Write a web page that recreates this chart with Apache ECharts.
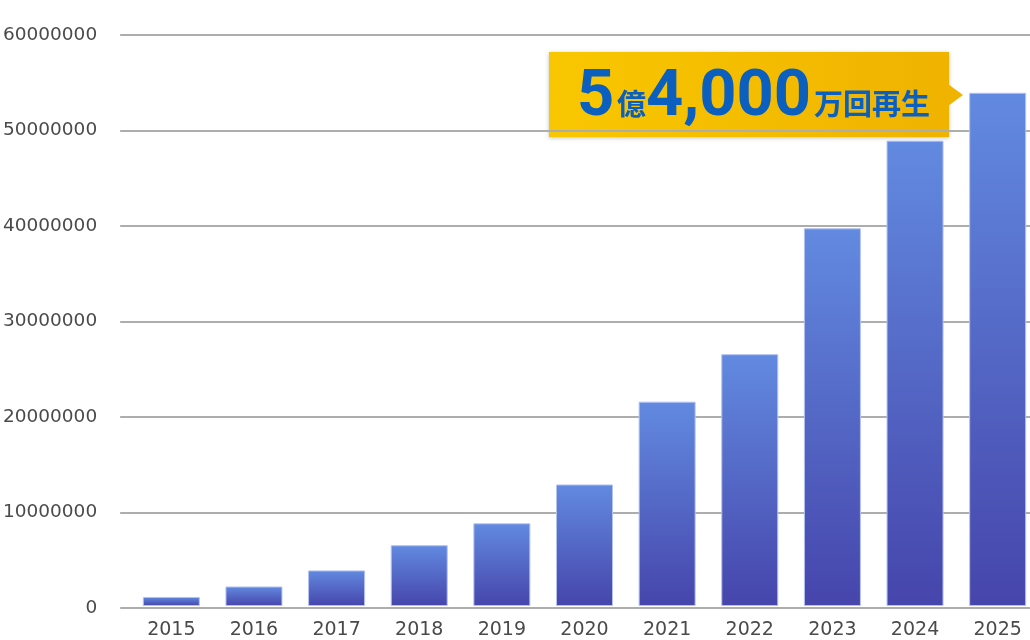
<!DOCTYPE html>
<html><head><meta charset="utf-8">
<script src="https://cdn.jsdelivr.net/npm/echarts@6/dist/echarts.min.js"></script>
<style>html,body{margin:0;padding:0;background:#fff;overflow:hidden}#c{width:1040px;height:640px}</style>
</head><body><div id="c"></div>
<script>
const years = ['2015','2016','2017','2018','2019','2020','2021','2022','2023','2024','2025'];
const plays = [950000, 2050000, 3740000, 6390000, 8690000, 12770000, 21470000, 26460000, 39690000, 48900000, 53930000];
const yMin = 0, yMax = 60000000, yStep = 10000000;
const calloutBig1 = '5', calloutSmall1 = '億', calloutBig2 = '4,000', calloutSmall2 = '万回再生';

const chart = echarts.init(document.getElementById('c'), null, {renderer: 'canvas'});
const labelFont = 'DejaVu Sans';
const blue = '#0a5fbf';
const bigStyle = {fontFamily: 'Roboto', fontWeight: 'bold', fontSize: 65, fill: blue, lineHeight: 70, verticalAlign: 'bottom'};
const smallStyle = {fontFamily: 'Noto Sans CJK JP', fontWeight: 'bold', fontSize: 29, fill: blue, lineHeight: 70, verticalAlign: 'bottom'};
function richText(x, y, str, st) {
  return {type: 'text', x: x, y: y, style: {text: '{t|' + str + '}', verticalAlign: 'bottom', rich: {t: st}}};
}
chart.setOption({
  animation: false,
  grid: [
    {left: 130, right: 1, top: 35, bottom: 32},
    {left: 117, right: 10, top: 35, bottom: 32}
  ],
  xAxis: [
    {type: 'category', gridIndex: 0, data: years,
     axisLine: {show: false}, axisTick: {show: false},
     axisLabel: {margin: 15, fontFamily: labelFont, fontSize: 19, color: '#4a4a4a'}},
    {type: 'value', gridIndex: 1, min: 0, max: 1, show: false}
  ],
  yAxis: [
    {type: 'value', gridIndex: 0, min: yMin, max: yMax, interval: yStep, show: false},
    {type: 'value', gridIndex: 1, min: yMin, max: yMax, interval: yStep,
     axisLine: {show: false}, axisTick: {show: false},
     axisLabel: {margin: 23, fontFamily: labelFont, fontSize: 18.5, color: '#4a4a4a',
                 formatter: v => String(v)},
     splitLine: {lineStyle: {color: '#adadad', width: 2}}}
  ],
  series: [{
    type: 'bar', xAxisIndex: 0, yAxisIndex: 0, data: plays, barWidth: 57,
    itemStyle: {
      color: new echarts.graphic.LinearGradient(0, 0, 0, 1, [
        {offset: 0, color: '#628ae0'}, {offset: 1, color: '#4645ab'}
      ]),
      borderColor: '#b4c2f2', borderWidth: 1
    }
  }],
  graphic: [{
    type: 'group', left: 549, top: 52,
    children: [
      {type: 'rect', shape: {x: 0, y: 0, width: 400, height: 85},
       style: {fill: new echarts.graphic.LinearGradient(0, 0, 1, 0, [
         {offset: 0, color: '#f9c700'}, {offset: 1, color: '#efb300'}]),
         shadowBlur: 4, shadowColor: 'rgba(0,0,0,0.25)', shadowOffsetY: 1}},
      {type: 'polygon', shape: {points: [[399, 32], [414, 43], [399, 54]]},
       style: {fill: '#efb300'}},
      richText(28, 79, calloutBig1, bigStyle),
      richText(68, 66, calloutSmall1, smallStyle),
      richText(97, 79, calloutBig2, bigStyle),
      richText(265, 66, calloutSmall2, smallStyle)
    ]
  }]
});
</script></body></html>
